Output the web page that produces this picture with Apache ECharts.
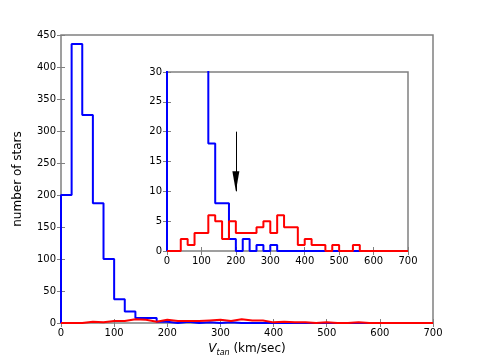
<!DOCTYPE html>
<html>
<head>
<meta charset="utf-8">
<script src="https://cdn.jsdelivr.net/npm/echarts@6/dist/echarts.min.js"></script>
<style>
  html, body { margin: 0; padding: 0; background: #fff; }
  #chart { width: 480px; height: 360px; }
</style>
</head>
<body>
<div id="chart"></div>
<script>
// left edges of the 20 km/s bins, plus the last right edge
var binEdges = [0, 20, 40, 60, 80, 100, 120, 140, 160, 180, 200, 220, 240, 260, 280, 300, 320, 340,
  360, 380, 400, 420, 440, 460, 480, 500, 520, 540, 560, 580, 600, 620, 640, 660, 680, 700];
// counts per bin (blue sample)
var blueCounts = [200, 436, 325, 187, 100, 37, 18, 8, 8, 2, 0, 2, 0, 1, 0, 1, 0, 0,
  0, 0, 0, 0, 0, 0, 0, 0, 0, 0, 0, 0, 0, 0, 0, 0, 0];
// counts per bin (red sample)
var redCounts = [0, 0, 2, 1, 3, 3, 6, 5, 2, 5, 3, 3, 3, 4, 5, 3, 6, 4,
  4, 1, 2, 1, 1, 0, 1, 0, 0, 1, 0, 0, 0, 0, 0, 0, 0];
var xTicks = [0, 700, 100];
var mainY = [0, 450, 50];
var insetY = [0, 30, 5];
var arrowFrom = [200, 20];
var arrowTo = [200, 10];

function steps(counts) {
  var pts = [[binEdges[0], 0]];
  for (var i = 0; i < counts.length; i++) {
    pts.push([binEdges[i], counts[i]]);
  }
  pts.push([binEdges[binEdges.length - 1], counts[counts.length - 1]]);
  return pts;
}

var chart = echarts.init(document.getElementById('chart'));
var gray = '#808080';
var font = 'DejaVu Sans';

function xAx(grid, rng, pos, labels) {
  return {
    type: 'value', gridIndex: grid, position: pos, min: rng[0], max: rng[1], interval: rng[2],
    axisLine: { show: false }, splitLine: { show: false },
    axisTick: { show: true, inside: true, length: 4, lineStyle: { color: gray } },
    axisLabel: { show: labels, color: '#000', fontFamily: font, fontSize: 10, margin: 5 }
  };
}

var xAxes = [xAx(0, xTicks, 'bottom', true), xAx(1, xTicks, 'bottom', true),
  xAx(0, xTicks, 'top', false), xAx(1, xTicks, 'top', false)];
xAxes[0].name = '{v|V}{s|tan} (km/sec)';
xAxes[0].nameLocation = 'middle';
xAxes[0].nameGap = 15;
xAxes[0].nameTextStyle = {
  color: '#000', fontFamily: font, fontSize: 12,
  rich: {
    v: { fontFamily: font, fontStyle: 'italic', fontSize: 12 },
    s: { fontFamily: font, fontStyle: 'italic', fontSize: 8, padding: [8, 0, 0, 0] }
  }
};
var yAxes = [xAx(0, mainY, 'left', true), xAx(1, insetY, 'left', true),
  xAx(0, mainY, 'right', false), xAx(1, insetY, 'right', false)];
yAxes[0].name = 'number of stars';
yAxes[0].nameLocation = 'middle';
yAxes[0].nameGap = 37;
yAxes[0].nameTextStyle = { color: '#000', fontFamily: font, fontSize: 12 };

function line(data, color, idx, z) {
  return {
    type: 'line', data: data, step: 'end', symbol: 'none', xAxisIndex: idx, yAxisIndex: idx, z: z,
    lineStyle: { color: color, width: 2 }, clip: true
  };
}

var option = {
  animation: false,
  grid: [
    { left: 61, top: 35, width: 372, height: 288, outerBoundsMode: 'none', show: true, borderColor: gray, borderWidth: 1.5, backgroundColor: 'transparent' },
    { left: 167, top: 72, width: 241, height: 179, outerBoundsMode: 'none', show: true, borderColor: gray, borderWidth: 1.5, backgroundColor: '#fff' }
  ],
  xAxis: xAxes,
  yAxis: yAxes,
  series: [
    line(steps(blueCounts), '#0000ff', 0, 2),
    line(steps(redCounts), '#ff0000', 0, 3),
    line(steps(blueCounts), '#0000ff', 1, 4),
    Object.assign(line(steps(redCounts), '#ff0000', 1, 5), {
      markLine: {
        silent: true, symbol: ['none', 'triangle'], symbolSize: [7, 20],
        symbolOffset: [0, [0, 10]],
        lineStyle: { color: '#000', width: 1, type: 'solid' },
        label: { show: false },
        data: [[{ coord: arrowFrom }, { coord: arrowTo }]]
      }
    })
  ]
};
chart.setOption(option);
</script>
</body>
</html>
